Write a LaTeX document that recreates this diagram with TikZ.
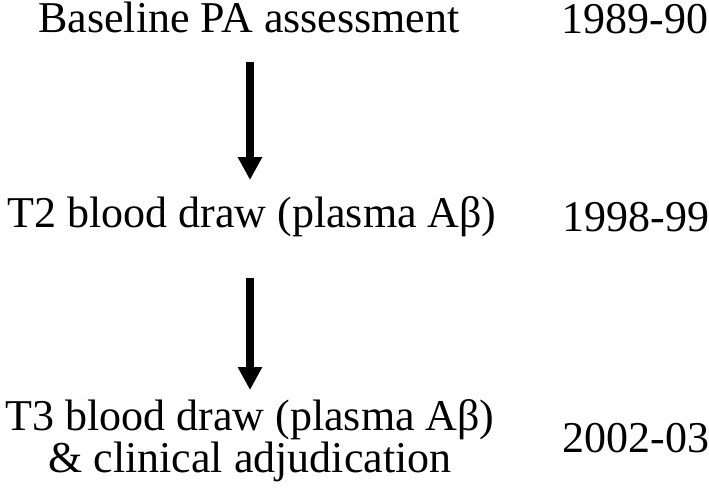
\documentclass[tikz,border=0pt]{standalone}
\usepackage{fontspec}
\setmainfont{Liberation Serif}
\usetikzlibrary{arrows.meta}
\begin{document}
\begin{tikzpicture}[x=1pt,y=-1pt,
  lbl/.style={inner sep=0pt, anchor=base, font=\fontsize{44}{50}\selectfont},
  arr/.style={line width=7.3pt, -{Triangle[width=23pt,length=23pt]}}]
\useasboundingbox (0,0) rectangle (709,490);
\node[lbl] (base) at (249,32) {Baseline PA assessment};
\node[lbl] (y1) at (635,33) {1989-90};
\node[lbl] (t2) at (252,227) {T2 blood draw (plasma Aβ)};
\node[lbl] (y2) at (636,231) {1998-99};
\node[lbl] (t3) at (250,430) {T3 blood draw (plasma Aβ)};
\node[lbl] (t3b) at (250,472) {\& clinical adjudication};
\node[lbl] (y3) at (636,452) {2002-03};
\coordinate (a1s) at (250,62);
\coordinate (a1e) at (250,180);
\coordinate (a2s) at (250,278);
\coordinate (a2e) at (250,390);
\draw[arr] (a1s) -- (a1e);
\draw[arr] (a2s) -- (a2e);
\end{tikzpicture}
\end{document}
